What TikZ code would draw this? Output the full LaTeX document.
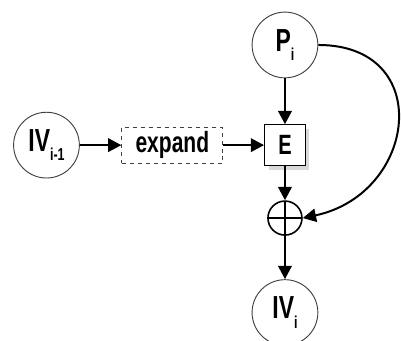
\documentclass[tikz,border=0pt]{standalone}
\usepackage{fontspec}
\setmainfont{Liberation Sans}[FakeStretch=0.72]
\usetikzlibrary{arrows.meta,shadows,positioning}

\newcommand{\lowsub}[1]{\raisebox{-7pt}{\fontsize{13}{13}\selectfont #1}}

\begin{document}
\begin{tikzpicture}[
    state/.style={circle, draw=black!75, line width=0.7pt, minimum size=1.74cm, inner sep=0pt,
                  font=\fontsize{24}{24}\selectfont\bfseries},
    cipher/.style={draw, line width=0.7pt, minimum size=1.08cm, inner sep=0pt, fill=white,
                   font=\fontsize{21}{21}\selectfont\bfseries,
                   drop shadow={shadow xshift=3pt, shadow yshift=-3pt, opacity=0.3}},
    dashbox/.style={draw=black!75, dashed, line width=0.7pt, minimum width=2.67cm, minimum height=0.9cm,
                    font=\fontsize{22}{22}\selectfont\bfseries},
    xor/.style={circle, draw, line width=1.2pt, minimum size=0.9cm, inner sep=0pt,
                path picture={\draw[line width=1.2pt]
                  (path picture bounding box.north) -- (path picture bounding box.south)
                  (path picture bounding box.west) -- (path picture bounding box.east);}},
    flow/.style={-{Triangle[length=10pt,width=10pt]}, line width=2pt}
  ]
    \useasboundingbox (0,0) rectangle (10.61,9.0);

    % nodes
    \node[state] (ivprev) at (1.23,5.16) {IV\lowsub{i-1}};
    \node[dashbox] (expand) at (4.56,5.16) {expand};
    \node[cipher] (enc) at (7.54,5.16) {E};
    \node[state] (p) at (7.54,7.81) {P\lowsub{i}};
    \node[xor] (xor) at (7.54,3.23) {};
    \node[state] (iv) at (7.54,0.73) {IV\lowsub{i}};

    % connectors
    \draw[flow] (ivprev) -- (expand);
    \draw[flow] (expand) -- (enc);
    \draw[flow] (p) -- (enc);
    \draw[flow] (enc) -- (xor);
    \draw[flow] (xor) -- (iv);
    \draw[flow, line width=1.5pt] (p.east) to[out=0,in=12,looseness=1.72] (xor.east);
\end{tikzpicture}
\end{document}
